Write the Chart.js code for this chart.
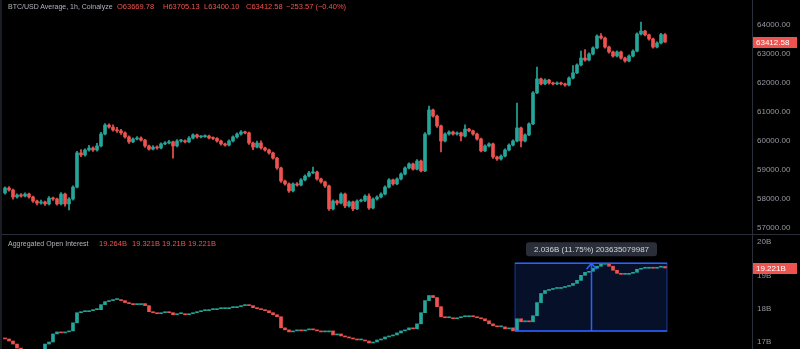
<!DOCTYPE html>
<html>
<head>
<meta charset="utf-8">
<script src="https://cdn.jsdelivr.net/npm/chart.js@4.4.0/dist/chart.umd.min.js"></script>
<style>
  html, body { margin: 0; padding: 0; background: #000; }
  #wrap { position: relative; width: 800px; height: 349px; overflow: hidden; background: #000; }
  #price { position: absolute; left: 0; top: 0; }
  #oi { position: absolute; left: 0; top: 235px; }
  #sep { position: absolute; left: 0; top: 234px; width: 800px; height: 1px; background: #2a2e39; }
  #edge { position: absolute; left: 0; top: 0; width: 2px; height: 349px; background: #1a1d24; }
  .lg { position: absolute; font: 7.5px "Liberation Sans", Arial, sans-serif; color: #b2b5be; white-space: nowrap; line-height: 10px; }
  .title { font-size: 7px; }
  .red { color: #ef5350; }
</style>
</head>
<body>
<div id="wrap">
  <canvas id="price" width="800" height="234"></canvas>
  <div id="sep"></div>
  <canvas id="oi" width="800" height="114"></canvas>
  <div id="edge"></div>

  <div class="lg title" style="left:8px; top:2px;">BTC/USD Average, 1h, Coinalyze</div>
  <div class="lg red" style="left:117px; top:2px;">O63669.78</div>
  <div class="lg red" style="left:163px; top:2px;">H63705.13</div>
  <div class="lg red" style="left:204px; top:2px;">L63400.10</div>
  <div class="lg red" style="left:246px; top:2px;">C63412.58</div>
  <div class="lg red" style="left:286px; top:2px;">−253.57 (−0.40%)</div>

  <div class="lg title" style="left:8px; top:239px;">Aggregated Open Interest</div>
  <div class="lg red" style="left:99px; top:239px;">19.264B</div>
  <div class="lg red" style="left:132px; top:239px;">19.321B</div>
  <div class="lg red" style="left:162px; top:239px;">19.21B</div>
  <div class="lg red" style="left:188px; top:239px;">19.221B</div>
</div>
<script>
// BTC/USD 1h candles (open of each bar = previous close)
const firstOpen = 58210;
const closes = [
  58380,58310,58070,58140,58100,58170,58070,57930,57860,57900,
  57830,58030,58000,57830,58170,57830,58000,58410,59590,59520,
  59690,59760,59690,59830,60240,60550,60480,60380,60350,60280,
  60140,59970,60070,60100,60030,59830,59720,59790,59760,59900,
  59930,59970,59830,60000,60010,59970,60100,60210,60140,60150,
  60170,60100,60090,60000,59900,59860,60000,60140,60240,60310,
  60280,59930,59790,59930,59760,59690,59590,59410,59070,58620,
  58520,58280,58520,58480,58660,58790,58900,58930,58690,58590,
  58450,57660,57930,57860,58170,57760,57900,57660,57930,57950,
  58100,57690,58000,58070,58170,58410,58660,58520,58690,58860,
  59070,59210,59030,59310,58970,60240,61070,60860,60520,60000,
  60240,60310,60240,60280,60170,60410,60350,60240,60070,59660,
  59830,59900,59450,59380,59480,59690,59860,60000,60450,60000,
  60210,60590,61660,62140,61970,62100,62000,61970,62000,61970,
  61930,62170,62350,62620,62860,62790,63000,63210,63620,63550,
  63240,63070,62930,63070,62860,62760,62930,63100,63690,63790,
  63660,63520,63240,63380,63669.78,63412.58
];
const highs = [
  58420,58430,58340,58180,58190,58210,58200,58100,57960,57960,
  57930,58080,58070,58030,58220,58200,58050,58450,59640,59700,
  59730,59850,59800,59920,60300,60600,60590,60560,60470,60400,
  60320,60180,60110,60150,60140,60060,59860,59840,59830,59940,
  59980,60020,60000,60050,60060,60040,60150,60250,60240,60190,
  60210,60200,60140,60120,60030,59930,60040,60180,60280,60360,
  60340,60310,59960,60000,60010,59790,59720,59620,59440,59100,
  58650,58560,58560,58570,58700,58830,58950,59100,58960,58720,
  58620,58480,57970,57960,58210,58200,57940,57930,57970,58000,
  58140,58180,58040,58110,58210,58450,58700,58690,58730,58900,
  59110,59250,59240,59360,59340,60290,61200,61100,60890,60550,
  60280,60350,60340,60320,60310,60560,60440,60380,60270,60100,
  59870,59940,59930,59480,59520,59730,59900,60040,61310,60480,
  60250,60630,61700,62550,62170,62140,62130,62030,62040,62030,
  62000,62210,62600,62660,63100,63150,63040,63250,63660,63700,
  63580,63270,63100,63110,63100,62890,62970,63140,63730,64100,
  63820,63690,63550,63420,63710,63705.13
];
const lows = [
  58170,58270,57990,58030,58060,58070,58030,57880,57800,57820,
  57780,57800,57950,57790,57800,57750,57620,57960,58380,59460,
  59480,59650,59640,59650,59800,60210,60440,60340,60300,60230,
  60100,59920,59940,60040,59990,59780,59680,59690,59720,59730,
  59870,59900,59410,59800,59960,59930,59940,60070,60100,60110,
  60120,60070,60050,59960,59860,59820,59830,59970,60100,60200,
  60240,59880,59700,59760,59720,59650,59550,59370,59020,58570,
  58480,58230,58240,58440,58450,58620,58760,58870,58650,58550,
  58400,57610,57620,57800,57830,57700,57720,57600,57630,57900,
  57910,57640,57660,57960,58040,58140,58380,58480,58490,58660,
  58830,59040,58990,59000,58930,58940,60210,60820,60470,59620,
  59970,60200,60200,60200,60000,60140,60310,60200,60030,59620,
  59630,59800,59400,59330,59340,59450,59660,59830,59970,59800,
  59970,60180,60560,61630,61930,61940,61960,61930,61940,61930,
  61890,61900,62140,62320,62590,62750,62760,62970,63180,63510,
  63200,63030,62890,62900,62820,62720,62730,62900,63070,63660,
  63620,63480,63200,63210,63350,63400.10
];
const opens = [firstOpen, ...closes.slice(0, -1)];

// Aggregated open interest, billions
const oiFirstOpen = 17.12;
const oiCloses = [
  17.091,17.030,16.939,16.818,16.667,16.576,16.545,16.576,16.636,16.727,
  16.939,17.000,17.242,17.303,17.273,17.303,17.333,17.576,17.879,17.909,
  17.909,17.939,17.970,17.970,18.121,18.212,18.242,18.273,18.273,18.242,
  18.182,18.152,18.121,18.121,18.152,18.091,17.909,17.879,17.848,17.879,
  17.909,17.879,17.818,17.848,17.848,17.818,17.848,17.879,17.909,17.939,
  17.939,17.970,17.970,18.000,18.000,18.000,18.030,18.030,18.061,18.091,
  18.121,18.091,18.030,18.000,17.970,17.939,17.879,17.818,17.758,17.424,
  17.364,17.303,17.333,17.364,17.333,17.364,17.394,17.364,17.333,17.303,
  17.303,17.333,17.212,17.242,17.182,17.152,17.121,17.091,17.061,17.061,
  17.030,16.970,17.000,17.061,17.091,17.152,17.182,17.212,17.273,17.333,
  17.364,17.424,17.394,17.545,17.879,18.242,18.394,18.333,18.061,17.758,
  17.727,17.727,17.697,17.727,17.758,17.758,17.788,17.758,17.727,17.697,
  17.636,17.545,17.485,17.455,17.455,17.394,17.424,17.333,17.697,17.606,
  17.636,17.606,17.788,18.182,18.455,18.545,18.576,18.606,18.606,18.636,
  18.667,18.697,18.758,18.848,19.000,19.091,19.121,19.212,19.273,19.333,
  19.364,19.273,19.152,19.061,19.030,19.030,19.061,19.091,19.182,19.212,
  19.212,19.242,19.212,19.242,19.264,19.221
];
const oiOpens = [oiFirstOpen, ...oiCloses.slice(0, -1)];

const priceTicks = [57000, 58000, 59000, 60000, 61000, 62000, 63000, 64000];
const oiTicks = [17, 18, 19, 20];

// measure tool drawn on the OI pane
const measureFrom = 127.5, measureTo = 165.5;
const measureLow = 17.327, measureHigh = 19.363;
const measureText = "2.036B (11.75%) 203635079987";

const upColor = "#26a69a";
const downColor = "#ef5350";
const axisText = "#9598a1";
const fontFamily = "'Liberation Sans', Arial, sans-serif";

function candles(o, h, l, c) {
  let bodies = [], wicks = [], colors = [];
  for (let i = 0; i < c.length; i++) {
    bodies.push({ x: i, y: [o[i], c[i]] });
    if (h) wicks.push({ x: i, y: [l[i], h[i]] });
    colors.push(c[i] >= o[i] ? upColor : downColor);
  }
  return { bodies, wicks, colors };
}

function fitAxis(scale) {
  scale.width = 48;
  scale.paddingTop = 0;
  scale.paddingBottom = 0;
}

function yAxis(min, max, ticks, fmt) {
  return {
    position: "right",
    min: min,
    max: max,
    afterFit: fitAxis,
    afterBuildTicks: (s) => { s.ticks = ticks.map((v) => ({ value: v })); },
    grid: { display: false, drawTicks: false },
    border: { color: "#2a2e39" },
    ticks: {
      color: axisText,
      padding: 5,
      font: { family: fontFamily, size: 8 },
      callback: fmt,
    },
  };
}

const xAxis = { type: "linear", min: -1.25, max: 186.75, offset: false, display: false };

let lastLabel = {
  id: "lastLabel",
  afterDraw(chart, args, opts) {
    let ctx = chart.ctx;
    let y = chart.scales.y;
    let py = Math.round(y.getPixelForValue(opts.value));
    ctx.save();
    ctx.fillStyle = downColor;
    ctx.fillRect(y.left + 1, py - 5, 44, 11);
    ctx.fillStyle = "#fff";
    ctx.font = "8px " + fontFamily;
    ctx.textBaseline = "middle";
    ctx.fillText(opts.text, y.left + 4, py + 0.5);
    ctx.restore();
  },
};

let measure = {
  id: "measure",
  beforeDatasetsDraw(chart) {
    let ctx = chart.ctx, x = chart.scales.x, y = chart.scales.y;
    let x0 = x.getPixelForValue(measureFrom), x1 = x.getPixelForValue(measureTo);
    let y0 = y.getPixelForValue(measureHigh), y1 = y.getPixelForValue(measureLow);
    ctx.save();
    ctx.fillStyle = "rgba(41, 98, 255, 0.16)";
    ctx.fillRect(x0, y0, x1 - x0, y1 - y0);
    ctx.restore();
  },
  afterDatasetsDraw(chart) {
    let ctx = chart.ctx, x = chart.scales.x, y = chart.scales.y;
    let x0 = x.getPixelForValue(measureFrom), x1 = x.getPixelForValue(measureTo);
    let y0 = y.getPixelForValue(measureHigh), y1 = y.getPixelForValue(measureLow);
    let xm = Math.round((x0 + x1) / 2) + 0.5;
    ctx.save();
    ctx.strokeStyle = "rgba(41, 98, 255, 0.55)";
    ctx.lineWidth = 1;
    ctx.strokeRect(x0, y0, x1 - x0, y1 - y0);
    ctx.strokeStyle = "#2962ff";
    ctx.lineWidth = 1.5;
    ctx.beginPath();
    ctx.moveTo(x0, y0); ctx.lineTo(x1, y0);
    ctx.moveTo(x0, y1); ctx.lineTo(x1, y1);
    ctx.moveTo(xm, y1); ctx.lineTo(xm, y0);
    ctx.moveTo(xm - 5, y0 + 6); ctx.lineTo(xm, y0); ctx.lineTo(xm + 5, y0 + 6);
    ctx.stroke();

    ctx.font = "8px " + fontFamily;
    let w = ctx.measureText(measureText).width + 16;
    ctx.fillStyle = "#2a2e39";
    ctx.beginPath();
    ctx.roundRect(xm - w / 2, y0 - 21, w, 14, 3);
    ctx.fill();
    ctx.fillStyle = "#d1d4dc";
    ctx.textAlign = "center";
    ctx.textBaseline = "middle";
    ctx.fillText(measureText, xm, y0 - 13.5);
    ctx.restore();
  },
};

function baseOptions(yScale, label) {
  return {
    responsive: false,
    animation: false,
    events: [],
    layout: { padding: 0 },
    plugins: {
      legend: { display: false },
      tooltip: { enabled: false },
      lastLabel: label,
    },
    scales: { x: xAxis, y: yScale },
  };
}

let p = candles(opens, highs, lows, closes);
let priceChart = new Chart(document.querySelector("#price"), {
  type: "bar",
  data: {
    datasets: [
      { data: p.wicks, backgroundColor: p.colors, barThickness: 1, grouped: false, minBarLength: 1, order: 2 },
      { data: p.bodies, backgroundColor: p.colors, barThickness: 3, grouped: false, minBarLength: 1, order: 1 },
    ],
  },
  options: baseOptions(
    yAxis(56793, 64862, priceTicks, (v) => v.toFixed(2)),
    { value: closes[closes.length - 1], text: closes[closes.length - 1].toFixed(2) }
  ),
  plugins: [lastLabel],
});

let q = candles(oiOpens, null, null, oiCloses);
let oiChart = new Chart(document.querySelector("#oi"), {
  type: "bar",
  data: {
    datasets: [
      { data: q.bodies, backgroundColor: q.colors, barThickness: 3, grouped: false, minBarLength: 1 },
    ],
  },
  options: baseOptions(
    yAxis(16.79, 20.21, oiTicks, (v) => v + "B"),
    { value: oiCloses[oiCloses.length - 1], text: oiCloses[oiCloses.length - 1].toFixed(3) + "B" }
  ),
  plugins: [measure, lastLabel],
});
</script>
</body>
</html>
